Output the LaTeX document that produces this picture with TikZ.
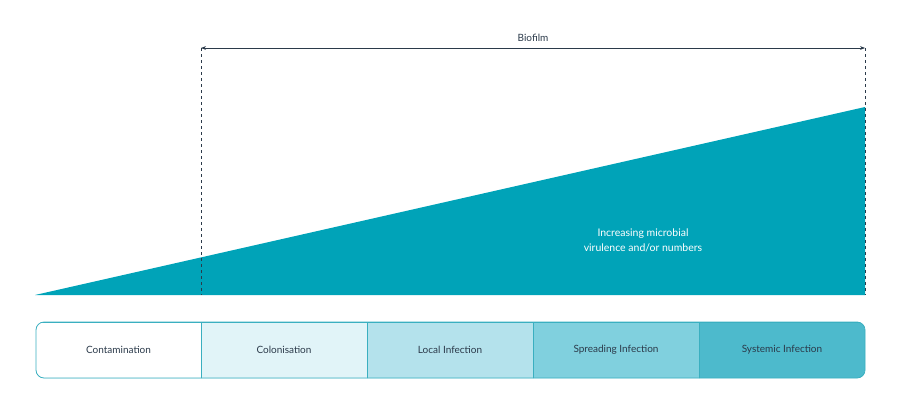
\documentclass[tikz,border=0pt]{standalone}
\usepackage{fontspec}
\setmainfont{Lato}
\usetikzlibrary{arrows.meta}
\definecolor{teal}{HTML}{00A3B8}
\definecolor{ink}{HTML}{2B3A4A}
\definecolor{edge}{HTML}{3AAFC0}
\definecolor{stageA}{HTML}{FFFFFF}
\definecolor{stageB}{HTML}{E1F4F8}
\definecolor{stageC}{HTML}{B4E2EC}
\definecolor{stageD}{HTML}{80D0DE}
\definecolor{stageE}{HTML}{4DBACC}
\tikzset{
  stage/.style={draw=edge, line width=0.6pt, minimum width=166pt, minimum height=56pt, inner sep=0pt, font=\fontsize{10}{12}\selectfont, text=ink},
  guide/.style={dashed, line width=0.8pt, ink}
}
\begin{document}
\begin{tikzpicture}[x=1pt,y=-1pt]
\useasboundingbox (0,0) rectangle (900,400);

% wedge
\fill[teal] (35,295) -- (865,295) -- (865,107) -- cycle;
\node[text=white, align=center, font=\fontsize{10.5}{15}\selectfont] (note) at (643,240) {Increasing microbial\\virulence and/or numbers};

% biofilm span
\coordinate (bl) at (201,48);
\coordinate (br) at (865,48);
\coordinate (bl0) at (201,295);
\coordinate (br0) at (865,295);
\draw[guide] (bl) -- (bl0);
\draw[guide] (br) -- (br0);
\draw[ink, line width=0.6pt, {Stealth[length=5pt]}-{Stealth[length=5pt]}] (bl) -- (br) node[midway, above=3pt, font=\fontsize{10}{12}\selectfont] (bio) {Biofilm};

% stages
\begin{scope}
\clip[rounded corners=8pt] (36,322) rectangle (865,378);
\node[stage, fill=stageA] (s1) at (118.5,350) {Contamination};
\node[stage, fill=stageB] (s2) at (284,350) {Colonisation};
\node[stage, fill=stageC] (s3) at (450,350) {Local Infection};
\node[stage, fill=stageD] (s4) at (616,350) {Spreading Infection};
\node[stage, fill=stageE] (s5) at (782,350) {Systemic Infection};
\end{scope}
\draw[edge, line width=0.8pt, rounded corners=8pt] (36,322) rectangle (865,378);
\end{tikzpicture}
\end{document}
